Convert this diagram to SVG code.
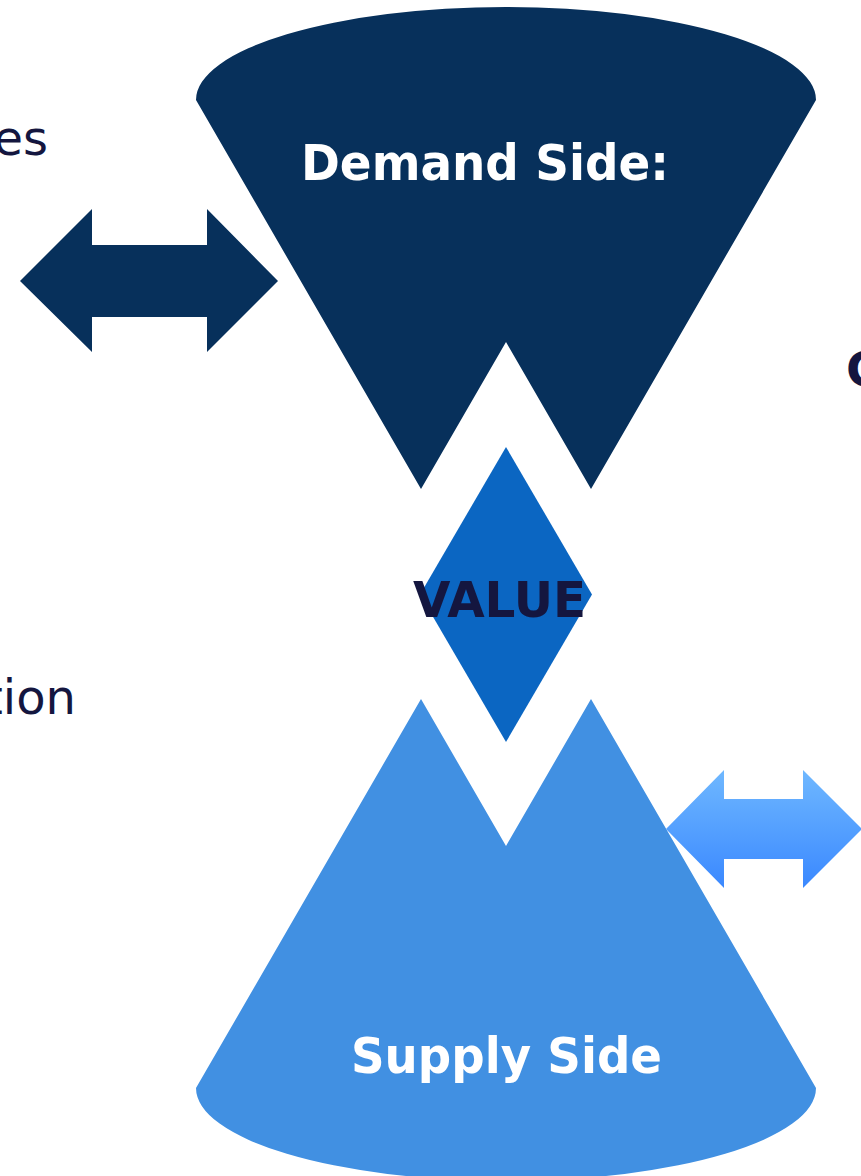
<svg xmlns="http://www.w3.org/2000/svg" width="861" height="1176" viewBox="0 0 861 1176">
<defs>
<linearGradient id="gArrow" x1="0" y1="0" x2="0" y2="1">
<stop offset="0" stop-color="#6FB8FF"/>
<stop offset="1" stop-color="#3A88FF"/>
</linearGradient>
<style>
.lbl{font-family:"DejaVu Sans","Liberation Sans",sans-serif;font-weight:bold;font-size:50px;text-anchor:middle}
.side{fill:#14163F;font-family:"DejaVu Sans","Liberation Sans",sans-serif;font-size:48px}
</style>
</defs>
<rect width="861" height="1176" fill="#FFFFFF"/>
<g id="side-texts">
<text class="side" x="48" y="155" text-anchor="end">es</text>
<text class="side" x="76" y="714" text-anchor="end">tion</text>
<text class="side" x="846" y="386" font-weight="bold" font-size="40">C</text>
</g>
<g id="connectors">
<polygon fill="#07305B" points="20,281 92,209 92,245 207,245 207,209 278,281 207,352 207,317 92,317 92,352"/>
<polygon fill="url(#gArrow)" points="666,829 724,770 724,799 803,799 803,770 862,829 803,888 803,859 724,859 724,888"/>
</g>
<g id="demand">
<path fill="#07305B" d="M196,100 A310,93 0 0 1 816,100 L591,489 L506,342 L421,489 Z"/>
<text class="lbl" x="485" y="180" fill="#FFFFFF" textLength="368" lengthAdjust="spacingAndGlyphs">Demand Side:</text>
</g>
<g id="value">
<path fill="#0B66C2" d="M506,447 L592,594.5 L506,742 L420,594.5 Z"/>
<text class="lbl" x="499.5" y="617" fill="#14163F" font-size="53" textLength="173" lengthAdjust="spacingAndGlyphs">VALUE</text>
</g>
<g id="supply">
<path fill="#4190E2" d="M196,1088 A310,93 0 0 0 816,1088 L591,699 L506,846 L421,699 Z"/>
<text class="lbl" x="506.5" y="1073" fill="#FFFFFF" textLength="311" lengthAdjust="spacingAndGlyphs">Supply Side</text>
</g>
</svg>
